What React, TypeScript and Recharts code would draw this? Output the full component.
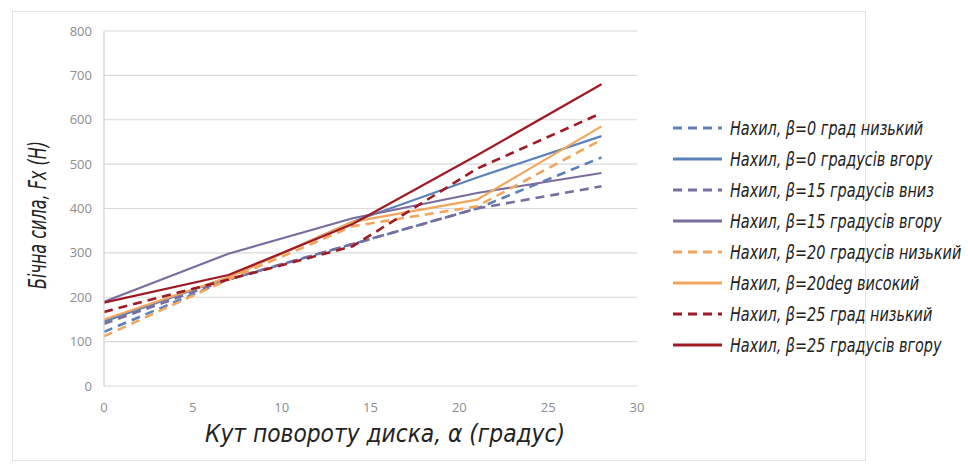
import React from 'react';
import { LineChart, Line, XAxis, YAxis, CartesianGrid, Label } from 'recharts';

// disc rotation angle, degrees
const angles = [0, 7, 14, 21, 28];

// lateral force Fx (N) per slope setting
const beta0Low = [122, 240, 320, 400, 515];
const beta0Up = [145, 245, 370, 470, 563];
const beta15Down = [140, 240, 320, 400, 450];
const beta15Up = [190, 298, 378, 435, 480];
const beta20Low = [112, 240, 360, 405, 555];
const beta20High = [150, 245, 370, 420, 585];
const beta25Low = [167, 240, 315, 490, 615];
const beta25Up = [188, 250, 365, 520, 680];

const xTicks = [0, 5, 10, 15, 20, 25, 30];
const yTicks = [0, 100, 200, 300, 400, 500, 600, 700, 800];

const BLUE = '#5b82b8';
const PURPLE = '#7b6c9f';
const ORANGE = '#f2a55c';
const RED = '#9e1a24';

const series = [
  { key: 'b0low', name: 'Нахил, β=0 град низький', values: beta0Low, color: BLUE, dashed: true },
  { key: 'b0up', name: 'Нахил, β=0 градусів вгору', values: beta0Up, color: BLUE, dashed: false },
  { key: 'b15down', name: 'Нахил, β=15 градусів вниз', values: beta15Down, color: PURPLE, dashed: true },
  { key: 'b15up', name: 'Нахил, β=15 градусів вгору', values: beta15Up, color: PURPLE, dashed: false },
  { key: 'b20low', name: 'Нахил, β=20 градусів низький', values: beta20Low, color: ORANGE, dashed: true },
  { key: 'b20high', name: 'Нахил, β=20deg високий', values: beta20High, color: ORANGE, dashed: false },
  { key: 'b25low', name: 'Нахил, β=25 град низький', values: beta25Low, color: RED, dashed: true },
  { key: 'b25up', name: 'Нахил, β=25 градусів вгору', values: beta25Up, color: RED, dashed: false },
];

const data = angles.map((x, i) => {
  const row: Record<string, number> = { x };
  series.forEach((s) => {
    row[s.key] = s.values[i];
  });
  return row;
});

const TITLE_FONT = "'DejaVu Sans Condensed', 'DejaVu Sans', sans-serif";
const TICK_FONT = "'Open Sans', 'Liberation Sans', sans-serif";

const ChartLegend = () => (
  <svg width={300} height={260} style={{ position: 'absolute', left: 668, top: 110 }}>
    {series.map((s, i) => {
      const y = 18 + i * 31;
      return (
        <g key={s.key}>
          <line
            x1={5}
            x2={54}
            y1={y}
            y2={y}
            stroke={s.color}
            strokeWidth={3}
            strokeDasharray={s.dashed ? '9 6' : undefined}
          />
          <text
            x={62}
            y={y + 7}
            fontFamily={TITLE_FONT}
            fontStyle="italic"
            fontSize={20}
            fill="#222"
            transform={`translate(${62 * 0.2} 0) scale(0.8 1)`}
          >
            {s.name}
          </text>
        </g>
      );
    })}
  </svg>
);

export default function App() {
  return (
    <div style={{ position: 'absolute', left: 0, top: 0, width: 968, height: 464, background: '#fff' }}>
      <div
        style={{
          position: 'absolute',
          left: 12,
          top: 11,
          width: 854,
          height: 450,
          border: '1px solid #e2e2e2',
          boxSizing: 'border-box',
        }}
      />
      <LineChart
        width={968}
        height={464}
        data={data}
        margin={{ top: 31, right: 331, left: 0, bottom: 0 }}
        style={{ position: 'absolute', left: 0, top: 0 }}
      >
        <CartesianGrid vertical={false} stroke="#d9d9d9" strokeWidth={1.2} />
        <XAxis
          type="number"
          dataKey="x"
          domain={[0, 30]}
          ticks={xTicks}
          height={78}
          axisLine={false}
          tickLine={false}
          tickMargin={11}
          tick={{ fill: '#8c8c8c', fontSize: 13, fontFamily: TICK_FONT }}
        >
          <Label
            content={() => (
              <text
                x={385}
                y={442}
                textAnchor="middle"
                fontFamily={TITLE_FONT}
                fontStyle="italic"
                fontSize={25}
                fill="#222"
                textLength={360}
                lengthAdjust="spacingAndGlyphs"
              >
                Кут повороту диска, α (градус)
              </text>
            )}
          />
        </XAxis>
        <YAxis
          type="number"
          domain={[0, 800]}
          ticks={yTicks}
          width={104}
          axisLine={{ stroke: '#d0d0d0', strokeWidth: 1.2 }}
          tickLine={false}
          tickMargin={6}
          tick={{ fill: '#8c8c8c', fontSize: 13, fontFamily: TICK_FONT }}
        >
          <Label
            content={() => (
              <text
                x={46}
                y={215}
                textAnchor="middle"
                fontFamily={TITLE_FONT}
                fontStyle="italic"
                fontSize={24}
                fill="#222"
                transform="rotate(-90 46 215)"
                textLength={148}
                lengthAdjust="spacingAndGlyphs"
              >
                Бічна сила, Fx (H)
              </text>
            )}
          />
        </YAxis>
        {series.map((s) => (
          <Line
            key={s.key}
            type="linear"
            dataKey={s.key}
            name={s.name}
            stroke={s.color}
            strokeWidth={s.dashed ? 2.6 : 2.2}
            strokeDasharray={s.dashed ? '9 6' : undefined}
            dot={false}
            activeDot={false}
            isAnimationActive={false}
          />
        ))}
      </LineChart>
      <ChartLegend />
    </div>
  );
}
